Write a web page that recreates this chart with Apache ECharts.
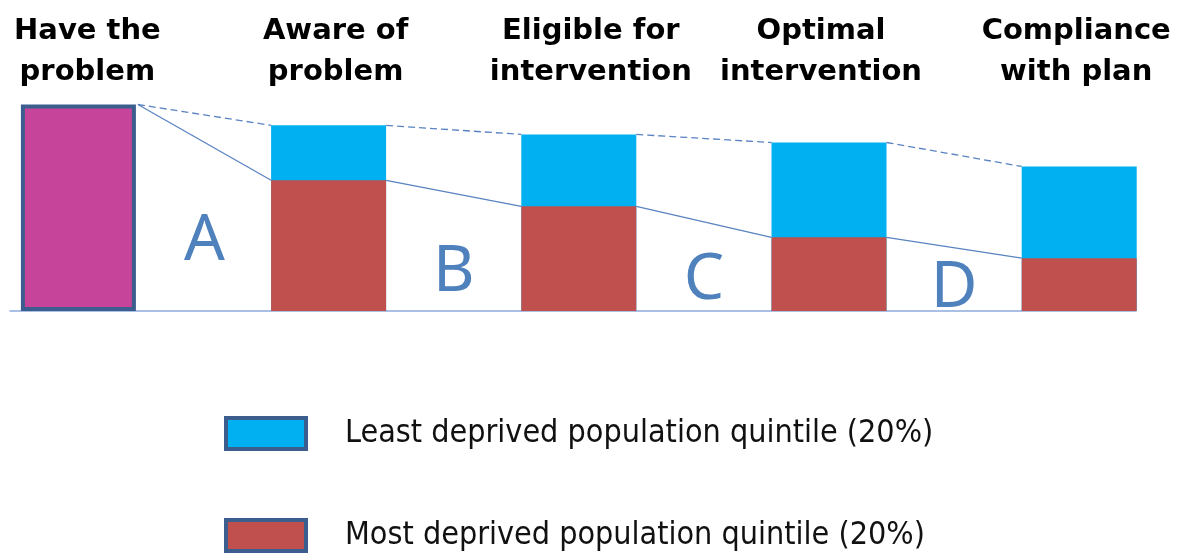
<!DOCTYPE html>
<html>
<head>
<meta charset="utf-8">
<script src="https://cdn.jsdelivr.net/npm/echarts@6/dist/echarts.min.js"></script>
<style>
  html, body { margin: 0; padding: 0; background: #fff; }
  #chart { width: 1183px; height: 554px; }
</style>
</head>
<body>
<div id="chart"></div>
<script>
// stages of the pathway
var categories = ['Have the\nproblem', 'Aware of\nproblem', 'Eligible for\nintervention', 'Optimal\nintervention', 'Compliance\nwith plan'];
// everyone with the problem = 100
var haveProblem = [100, '-', '-', '-', '-'];
// least deprived quintile (blue), most deprived quintile (red)
var leastDeprived = ['-', 89.9, 85.5, 81.6, 70.0];
var mostDeprived = ['-', 63.3, 50.7, 35.7, 25.6];
// gaps between stages
var gapLetters = ['A', 'B', 'C', 'D'];
var letterLevels = [33.5, 18.5, 14.5, 10.8];

var legendNames = ['Least deprived population quintile (20%)', 'Most deprived population quintile (20%)'];

var upper = [haveProblem[0]].concat(leastDeprived.slice(1));
var lower = [haveProblem[0]].concat(mostDeprived.slice(1));

var chart = echarts.init(document.getElementById('chart'));

var halfBar = 57.5;
var lineColor = '#5A83C2';

// small nudges of the stage titles off the bar centres (px)
var titleNudge = [9, 7, 12, -8, -3];
var titleRich = {};
titleNudge.forEach(function (d, i) {
    titleRich['t' + i] = {
        color: '#000',
        fontFamily: 'DejaVu Sans',
        fontWeight: 'bold',
        fontSize: 29,
        lineHeight: 41,
        padding: d >= 0 ? [0, 0, 0, 2 * d] : [0, -2 * d, 0, 0]
    };
});

var connectorData = gapLetters.map(function (l, i) { return [i, upper[i]]; });

// one legend block per item so they stack like the original key
function legendBlock(name, top) {
    return {
        orient: 'vertical',
        left: 224,
        top: top,
        padding: 0,
        itemWidth: 80,
        itemHeight: 31,
        icon: 'rect',
        data: [name],
        itemStyle: {borderColor: '#3C5E8E', borderWidth: 4},
        textStyle: {
            color: '#111',
            fontFamily: 'DejaVu Sans Condensed, Liberation Sans Narrow, DejaVu Sans',
            fontSize: 32,
            lineHeight: 31,
            padding: [0, 0, 0, 34]
        }
    };
}

var option = {
    animation: false,
    grid: [
        {left: -46.7, width: 1251, top: 104.5, bottom: 243, outerBoundsMode: 'none', containLabel: false},
        {left: 10, right: 47, top: 104.5, bottom: 243, outerBoundsMode: 'none', containLabel: false}
    ],
    xAxis: [{
        type: 'category',
        gridIndex: 0,
        position: 'top',
        data: categories,
        axisLine: {show: false},
        axisTick: {show: false},
        axisLabel: {
            interval: 0,
            margin: 12,
            color: '#000',
            fontFamily: 'DejaVu Sans',
            fontWeight: 'bold',
            fontSize: 29,
            lineHeight: 41,
            formatter: function (value, idx) {
                return value.split('\n').map(function (s) {
                    return '{t' + idx + '|' + s + '}';
                }).join('\n');
            },
            rich: titleRich
        }
    }, {
        // plain baseline under the bars
        type: 'value',
        gridIndex: 1,
        min: 0,
        max: 1,
        axisLine: {show: true, lineStyle: {color: '#8EAADB', width: 1.5}},
        axisTick: {show: false},
        axisLabel: {show: false},
        splitLine: {show: false}
    }],
    yAxis: [
        {type: 'value', gridIndex: 0, min: 0, max: 100, show: false},
        {type: 'value', gridIndex: 1, min: 0, max: 1, show: false}
    ],
    legend: [legendBlock(legendNames[0], 416), legendBlock(legendNames[1], 518)],
    series: [{
        name: 'Have the problem',
        type: 'bar',
        xAxisIndex: 0,
        yAxisIndex: 0,
        barWidth: 115,
        barGap: '-100%',
        data: haveProblem,
        itemStyle: {color: '#C6449A', borderColor: '#3C5E8E', borderWidth: 4}
    }, {
        name: legendNames[0],
        type: 'bar',
        xAxisIndex: 0,
        yAxisIndex: 0,
        barWidth: 115,
        barGap: '-100%',
        data: leastDeprived,
        itemStyle: {color: '#00B0F0'}
    }, {
        name: legendNames[1],
        type: 'bar',
        xAxisIndex: 0,
        yAxisIndex: 0,
        barWidth: 115,
        barGap: '-100%',
        data: mostDeprived,
        itemStyle: {color: '#C0504D'}
    }, {
        // connector lines between the bars and the gap letters
        type: 'custom',
        xAxisIndex: 0,
        yAxisIndex: 0,
        data: connectorData,
        encode: {x: 0, y: 1},
        z: 5,
        renderItem: function (params, api) {
            var i = params.dataIndex;
            var startOff = i === 0 ? halfBar + 2 : halfBar;
            var a1 = api.coord([i, upper[i]]);
            var b1 = api.coord([i + 1, upper[i + 1]]);
            var a2 = api.coord([i, lower[i]]);
            var b2 = api.coord([i + 1, lower[i + 1]]);
            var mid = api.coord([i, letterLevels[i]]);
            var midX = ((a1[0] + startOff) + (b1[0] - halfBar)) / 2;
            return {
                type: 'group',
                children: [{
                    type: 'line',
                    shape: {x1: a1[0] + startOff, y1: a1[1], x2: b1[0] - halfBar, y2: b1[1]},
                    style: {stroke: lineColor, lineWidth: 1.3, lineDash: [7, 4]}
                }, {
                    type: 'line',
                    shape: {x1: a2[0] + startOff, y1: a2[1], x2: b2[0] - halfBar, y2: b2[1]},
                    style: {stroke: lineColor, lineWidth: 1.3}
                }, {
                    type: 'text',
                    style: {
                        x: midX,
                        y: mid[1],
                        text: gapLetters[i],
                        fill: '#4F81BD',
                        font: '64px "Noto Sans"',
                        align: 'center',
                        verticalAlign: 'middle'
                    }
                }]
            };
        }
    }]
};

chart.setOption(option);
</script>
</body>
</html>
